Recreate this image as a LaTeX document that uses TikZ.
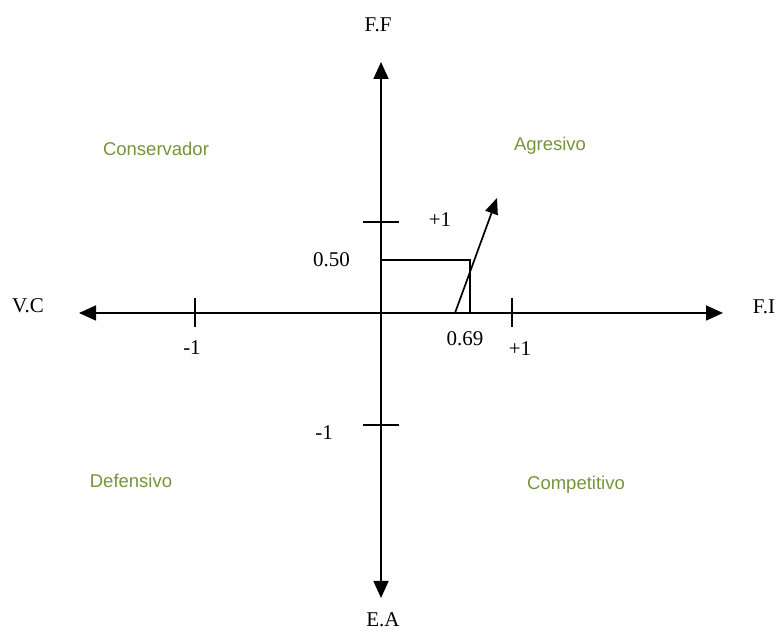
\documentclass[tikz,border=0pt]{standalone}
\usepackage{fontspec}
\setmainfont{Liberation Serif}
\newfontfamily\arialfont{Liberation Sans}
\usetikzlibrary{arrows.meta}
\definecolor{olivegr}{RGB}{119,147,60}
\begin{document}
\begin{tikzpicture}[x=1pt,y=1pt,
  axis/.style={line width=1.7pt,-{Triangle[length=17pt,width=15pt]}},
  thin line/.style={line width=1.7pt},
  lbl/.style={anchor=base,inner sep=0pt,font=\fontsize{21}{24}\selectfont},
  quad/.style={anchor=base,inner sep=0pt,font=\arialfont\fontsize{18.5}{22}\selectfont,text=olivegr}]
\useasboundingbox (0,0) rectangle (779,631);
% axis coordinates
\coordinate (O) at (381,318);
\coordinate (top) at (381,569);
\coordinate (bot) at (381,33);
\coordinate (lft) at (79,318);
\coordinate (rgt) at (723,318);
\draw[axis] (O) -- (top);
\draw[axis] (O) -- (bot);
\draw[axis] (O) -- (lft);
\draw[axis] (O) -- (rgt);
% ticks
\coordinate (xm1a) at (195,333); \coordinate (xm1b) at (195,304);
\coordinate (xp1a) at (512,333); \coordinate (xp1b) at (512,304);
\coordinate (yp1a) at (363,409); \coordinate (yp1b) at (399,409);
\coordinate (ym1a) at (363,206); \coordinate (ym1b) at (399,206);
\draw[thin line] (xm1a) -- (xm1b);
\draw[thin line] (xp1a) -- (xp1b);
\draw[thin line] (yp1a) -- (yp1b);
\draw[thin line] (ym1a) -- (ym1b);
% rectangle
\coordinate (r0) at (381,371);
\coordinate (r1) at (470,371);
\coordinate (r2) at (470,318);
\draw[thin line] (r0) -- (r1) -- (r2);
% vector
\coordinate (v0) at (455,318);
\coordinate (v1) at (497,433);
\draw[line width=1.7pt,-{Triangle[length=16pt,width=13pt]}] (v0) -- (v1);
% axis labels
\node[lbl] (ff) at (378,599) {F.F};
\node[lbl] (ea) at (383,4) {E.A};
\node[lbl] (vc) at (28,318) {V.C};
\node[lbl] (fi) at (764,317) {F.I};
% numbers
\node[lbl] (nxm1) at (192,276) {-1};
\node[lbl] (nxp1) at (520,275) {+1};
\node[lbl] (n069) at (465,285) {0.69};
\node[lbl] (nyp1) at (440,404) {+1};
\node[lbl] (n050) at (331.5,364.5) {0.50};
\node[lbl] (nym1) at (324,191) {-1};
% quadrants
\node[quad] (cons) at (156,475) {Conservador};
\node[quad] (agr) at (550,480) {Agresivo};
\node[quad] (def) at (131,143) {Defensivo};
\node[quad] (comp) at (576,141) {Competitivo};
\end{tikzpicture}
\end{document}
